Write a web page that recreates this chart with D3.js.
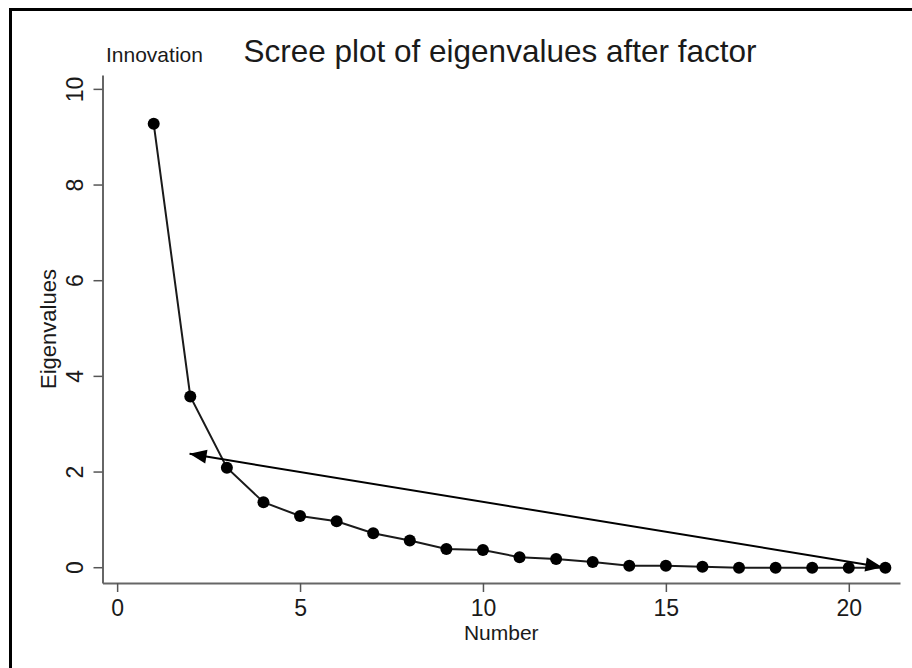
<!DOCTYPE html>
<html>
<head>
<meta charset="utf-8">
<script src="https://cdn.jsdelivr.net/npm/d3@7"></script>
<style>
	html, body { margin: 0; padding: 0; background: #fff; }
	text { font-family: "Liberation Sans", Arial, Helvetica, sans-serif; fill: #1a1a1a; }
</style>
</head>
<body>
<div id="chart"></div>
<script>
// data
const factorNumber = [1, 2, 3, 4, 5, 6, 7, 8, 9, 10, 11, 12, 13, 14, 15, 16, 17, 18, 19, 20, 21];
const eigenvalues = [9.27, 3.57, 2.08, 1.36, 1.07, 0.96, 0.71, 0.56, 0.38, 0.36, 0.21, 0.17, 0.11, 0.03, 0.03, 0.01, -0.01, -0.01, -0.01, -0.01, -0.01];
const xTicks = [0, 5, 10, 15, 20];
const yTicks = [0, 2, 4, 6, 8, 10];
// the double-headed arrow (data coords)
const arrowFrom = [1.98, 2.37];
const arrowTo = [20.92, 0.0];

const width = 912, height = 668;

const svg = d3.select('#chart')
	.append('svg')
	.attr('width', width)
	.attr('height', height);

// outer frame
svg.append('rect')
	.attr('x', 10.5)
	.attr('y', 9.5)
	.attr('width', 940)
	.attr('height', 700)
	.style('fill', 'none')
	.attr('stroke', '#000')
	.style('stroke-width', 3);

const x = d3.scaleLinear().domain([-0.4, 21.4]).range([102.5, 900]);
const y = d3.scaleLinear().domain([-0.33, 10.29]).range([583, 75]);

// axes
const xAxis = svg.append('g')
	.attr('transform', 'translate(0,583)')
	.call(d3.axisBottom(x).tickValues(xTicks).tickSize(9).tickSizeOuter(0).tickPadding(8));
const yAxis = svg.append('g')
	.attr('transform', 'translate(102.5,0)')
	.call(d3.axisLeft(y).tickValues(yTicks).tickSize(9).tickSizeOuter(0));

[xAxis, yAxis].forEach(g => {
	g.select('.domain').attr('stroke', '#666').style('stroke-width', 2);
	g.selectAll('.tick line').attr('stroke', '#555').style('stroke-width', 1.5);
	g.selectAll('text').attr('fill', '#1a1a1a').style('font-size', '23px');
});

//	y tick labels are rotated, reading upwards
yAxis.selectAll('.tick text')
	.attr('transform', 'rotate(-90)')
	.attr('x', 0)
	.attr('y', -20)
	.attr('dy', 0)
	.attr('text-anchor', 'middle');

// axis titles
svg.append('text')
	.attr('x', (x.range()[0] + x.range()[1]) / 2)
	.attr('y', 640)
	.attr('text-anchor', 'middle')
	.style('font-size', '21px')
	.text('Number');

svg.append('text')
	.attr('transform', 'translate(56,' + ((y.range()[0] + y.range()[1]) / 2) + ') rotate(-90)')
	.attr('text-anchor', 'middle')
	.style('font-size', '22px')
	.text('Eigenvalues');

// titles
svg.append('text')
	.attr('x', 106)
	.attr('y', 62)
	.style('font-size', '21px')
	.text('Innovation');

svg.append('text')
	.attr('x', 500)
	.attr('y', 62)
	.attr('text-anchor', 'middle')
	.style('font-size', '31.5px')
	.text('Scree plot of eigenvalues after factor');

// scree line
const points = factorNumber.map((n, i) => ({ n, v: eigenvalues[i] }));

svg.append('path')
	.datum(points)
	.attr('d', d3.line().x(d => x(d.n)).y(d => y(d.v)))
	.style('fill', 'none')
	.attr('stroke', '#1a1a1a')
	.style('stroke-width', 2);

svg.selectAll('circle.pt')
	.data(points)
	.enter()
	.append('circle')
	.attr('class', 'pt')
	.attr('cx', d => x(d.n))
	.attr('cy', d => y(d.v))
	.attr('r', 6)
	.style('fill', '#000');

// arrow: line plus a solid head at each end
const ax1 = x(arrowFrom[0]), ay1 = y(arrowFrom[1]);
const ax2 = x(arrowTo[0]), ay2 = y(arrowTo[1]);
const headLen = 17, headHalf = 7;

svg.append('line')
	.attr('x1', ax1)
	.attr('y1', ay1)
	.attr('x2', ax2)
	.attr('y2', ay2)
	.attr('stroke', '#000')
	.style('stroke-width', 2);

const heads = [
	{ tx: ax1, ty: ay1, ang: Math.atan2(ay1 - ay2, ax1 - ax2) },
	{ tx: ax2, ty: ay2, ang: Math.atan2(ay2 - ay1, ax2 - ax1) }
];
svg.selectAll('polygon.head')
	.data(heads)
	.enter()
	.append('polygon')
	.attr('class', 'head')
	.attr('transform', d => 'translate(' + d.tx + ',' + d.ty + ') rotate(' + (d.ang * 180 / Math.PI) + ')')
	.attr('points', '0,0 ' + (-headLen) + ',' + headHalf + ' ' + (-headLen) + ',' + (-headHalf))
	.style('fill', '#000');
</script>
</body>
</html>
